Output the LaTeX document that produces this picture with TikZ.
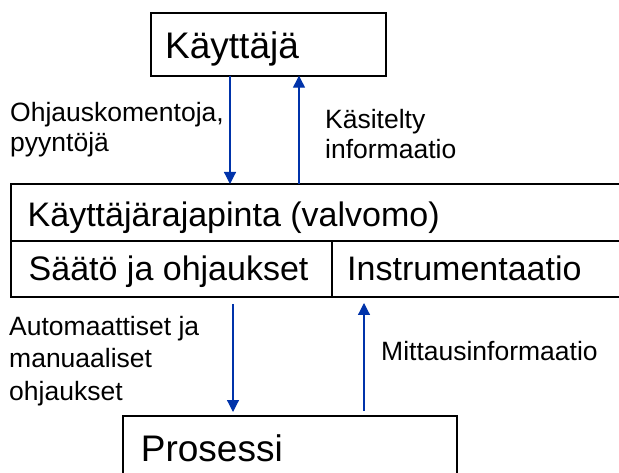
\documentclass[tikz,border=0pt]{standalone}
\usepackage{fontspec}
\setmainfont{Liberation Sans}
\usetikzlibrary{arrows.meta}
\definecolor{arrowblue}{RGB}{0,51,170}
\begin{document}
\begin{tikzpicture}[x=1pt,y=-1pt,
  box/.style={draw=black, line width=2pt, inner sep=0pt, outer sep=0pt, anchor=north west},
  big/.style={anchor=base west, inner sep=0pt, font=\fontsize{37}{44}\selectfont},
  mid/.style={anchor=base west, inner sep=0pt, font=\fontsize{34}{40}\selectfont},
  lab/.style={anchor=base west, inner sep=0pt, font=\fontsize{26.5}{31}\selectfont},
  flow/.style={draw=arrowblue, line width=1.2pt, -{Triangle[width=12pt,length=12pt]}}]
\useasboundingbox (0,0) rectangle (619,473);

% boxes
\node[box, minimum width=235pt, minimum height=62.7pt] (kayttaja) at (151,13) {};
\node[box, minimum width=629pt, minimum height=57pt] (hui) at (11,184) {};
\node[box, minimum width=321pt, minimum height=56pt] (saato) at (11,241) {};
\node[box, minimum width=308pt, minimum height=56pt] (instr) at (332,241) {};
\node[box, minimum width=334pt, minimum height=80pt] (prosessi) at (123,416) {};

% box texts
\node[big] (tkay) at (165,58.3) {Käyttäjä};
\node[mid] (thui) at (27.5,226.7) {Käyttäjärajapinta (valvomo)};
\node[mid] (tsaa) at (28.5,281) {Säätö ja ohjaukset};
\node[mid] (tins) at (347,281) {Instrumentaatio};
\node[big] (tpro) at (140.7,461.7) {Prosessi};

% connector labels
\node[lab] (l1a) at (10,121.7) {Ohjauskomentoja,};
\node[lab] (l1b) at (10,151.7) {pyyntöjä};
\node[lab] (l2a) at (325,128.3) {Käsitelty};
\node[lab] (l2b) at (325,158.3) {informaatio};
\node[lab] (l3a) at (9,335) {Automaattiset ja};
\node[lab] (l3b) at (9,367.5) {manuaaliset};
\node[lab] (l3c) at (9,400) {ohjaukset};
\node[lab] (l4a) at (381,360) {Mittausinformaatio};

% connectors
\coordinate (ax1) at (230,0);
\coordinate (ax2) at (299,0);
\coordinate (ax3) at (233,0);
\coordinate (ax4) at (364,0);
\draw[flow] (kayttaja.south -| ax1) -- (hui.north -| ax1);
\draw[flow] (hui.north -| ax2) -- (kayttaja.south -| ax2);
\draw[flow, shorten <=7pt, shorten >=4pt] (saato.south -| ax3) -- (prosessi.north -| ax3);
\draw[flow, shorten <=5pt, shorten >=6pt] (prosessi.north -| ax4) -- (instr.south -| ax4);
\end{tikzpicture}
\end{document}
